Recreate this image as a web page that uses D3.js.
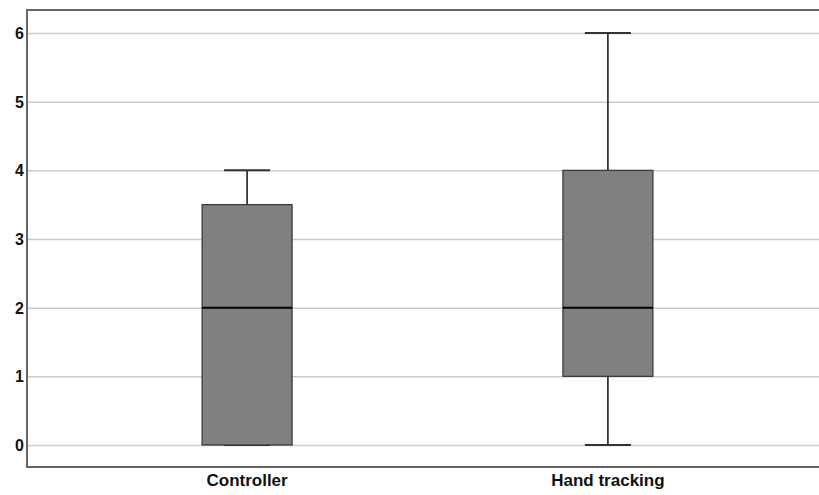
<!DOCTYPE html>
<html>
<head>
<meta charset="utf-8">
<script src="https://cdn.jsdelivr.net/npm/d3@7"></script>
<style>
  body { margin: 0; background: #fff; }
  text { font-family: "Liberation Sans", Arial, sans-serif; font-weight: bold; }
</style>
</head>
<body>
<svg id="chart" width="819" height="495"></svg>
<script>
var categories = ["Controller", "Hand tracking"];
var mins    = [0, 0];
var q1s     = [0, 1];
var medians = [2, 2];
var q3s     = [3.5, 4];
var maxs    = [4, 6];
var yTicks  = [0, 1, 2, 3, 4, 5, 6];

var svg = d3.select("#chart");
var plotL = 27, plotT = 10, plotR = 819, plotB = 467;

var y = d3.scaleLinear().domain([0, 6]).range([445, 33]);
var x = d3.scalePoint().domain(categories).range([plotL, 828]).padding(0.61);
var boxW = 90, capW = 46;

var boxes = categories.map(function(c, i) {
  return { name: c, min: mins[i], q1: q1s[i], med: medians[i], q3: q3s[i], max: maxs[i] };
});

// gridlines
svg.append("g")
  .attr("transform", "translate(" + plotL + ",0)")
  .call(d3.axisLeft(y).tickValues(yTicks).tickSize(-(plotR - plotL)).tickFormat(""))
  .call(function(g) {
    g.select(".domain").remove();
    g.selectAll("line").attr("stroke", "#cccccc").attr("stroke-width", 1.5);
  });

// tick labels
svg.selectAll(".ylab")
  .data(yTicks)
  .enter()
  .append("text")
  .attr("class", "ylab")
  .attr("x", 24)
  .attr("y", function(d) { return y(d) + 6; })
  .attr("text-anchor", "end")
  .attr("font-size", 16)
  .attr("fill", "#111")
  .text(function(d) { return d; });

var g = svg.selectAll(".box")
  .data(boxes)
  .enter()
  .append("g")
  .attr("class", "box");

// whiskers
g.append("line")
  .attr("x1", function(d) { return x(d.name); })
  .attr("x2", function(d) { return x(d.name); })
  .attr("y1", function(d) { return y(d.max); })
  .attr("y2", function(d) { return y(d.q3); })
  .attr("stroke", "#111").attr("stroke-width", 1.5);
g.append("line")
  .attr("x1", function(d) { return x(d.name); })
  .attr("x2", function(d) { return x(d.name); })
  .attr("y1", function(d) { return y(d.q1); })
  .attr("y2", function(d) { return y(d.min); })
  .attr("stroke", "#111").attr("stroke-width", 1.5);

// caps
g.append("line")
  .attr("x1", function(d) { return x(d.name) - capW / 2; })
  .attr("x2", function(d) { return x(d.name) + capW / 2; })
  .attr("y1", function(d) { return y(d.max); })
  .attr("y2", function(d) { return y(d.max); })
  .attr("stroke", "#333").attr("stroke-width", 2);
g.append("line")
  .attr("x1", function(d) { return x(d.name) - capW / 2; })
  .attr("x2", function(d) { return x(d.name) + capW / 2; })
  .attr("y1", function(d) { return y(d.min); })
  .attr("y2", function(d) { return y(d.min); })
  .attr("stroke", "#333").attr("stroke-width", 2);

// box
g.append("rect")
  .attr("x", function(d) { return x(d.name) - boxW / 2; })
  .attr("y", function(d) { return y(d.q3); })
  .attr("width", boxW)
  .attr("height", function(d) { return y(d.q1) - y(d.q3); })
  .attr("fill", "#808080")
  .attr("stroke", "#333")
  .attr("stroke-width", 1.2);

// median
g.append("line")
  .attr("x1", function(d) { return x(d.name) - boxW / 2; })
  .attr("x2", function(d) { return x(d.name) + boxW / 2; })
  .attr("y1", function(d) { return y(d.med); })
  .attr("y2", function(d) { return y(d.med); })
  .attr("stroke", "#000").attr("stroke-width", 2);

// frame
svg.append("path")
  .attr("d", "M" + plotR + "," + plotT + "H" + plotL + "V" + plotB + "H" + plotR)
  .attr("fill", "none")
  .attr("stroke", "#666")
  .attr("stroke-width", 2);

// x labels
svg.selectAll(".xlab")
  .data(categories)
  .enter()
  .append("text")
  .attr("class", "xlab")
  .attr("x", function(d) { return x(d); })
  .attr("y", 486)
  .attr("text-anchor", "middle")
  .attr("font-size", 17)
  .attr("fill", "#111")
  .text(function(d) { return d; });
</script>
</body>
</html>
